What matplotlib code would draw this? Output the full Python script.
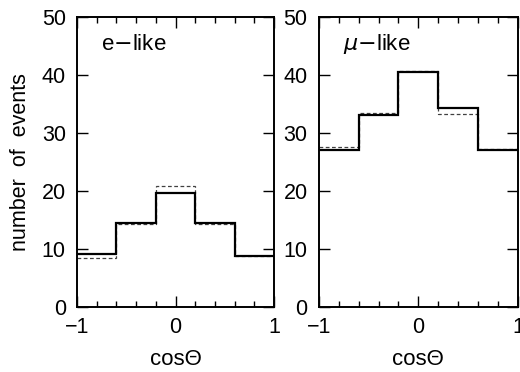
import numpy as np
import matplotlib
matplotlib.use('Agg')
from matplotlib import pyplot as plt
from matplotlib.ticker import MultipleLocator

plt.rcParams['font.family'] = ['Liberation Sans', 'DejaVu Sans']

edges = [-1.0, -0.6, -0.2, 0.2, 0.6, 1.0]

# e-like: data (solid) and expectation (dashed)
e_data = [9.2, 14.4, 19.6, 14.5, 8.7]
e_mc = [8.5, 14.2, 20.8, 14.2, 8.7]

# mu-like
mu_data = [27.0, 33.0, 40.5, 34.3, 27.1]
mu_mc = [27.5, 33.4, 40.6, 33.3, 27.2]

panels = [('e$-$like', e_data, e_mc), ('$\\mu$$-$like', mu_data, mu_mc)]

fig = plt.figure(figsize=(5.2, 3.72), dpi=100)
boxes = [[0.148, 0.175, 0.379, 0.780], [0.613, 0.175, 0.383, 0.780]]

for i, (label, data, mc) in enumerate(panels):
    ax = fig.add_axes(boxes[i])
    ax.stairs(mc, edges, baseline=None, color='0.25', lw=0.9, ls=(0, (3, 2)))
    ax.stairs(data, edges, baseline=None, color='black', lw=1.6)
    ax.set_xlim(-1, 1)
    ax.set_ylim(0, 50)
    ax.xaxis.set_major_locator(MultipleLocator(1))
    ax.xaxis.set_minor_locator(MultipleLocator(0.2))
    ax.yaxis.set_major_locator(MultipleLocator(10))
    ax.tick_params(which='both', direction='in', top=True, right=True,
                   labelsize=15.5, width=1)
    ax.tick_params(which='major', length=8, pad=7)
    ax.tick_params(which='minor', length=4)
    ax.tick_params(axis='y', pad=8)
    ax.set_xticklabels(['', '\u22121', '0', '1'])
    for s in ax.spines.values():
        s.set_linewidth(1.4)
    ax.set_xlabel('cos\u0398', fontsize=16, labelpad=8)
    ax.text(-0.76, 45.3, label, fontsize=16, va='center')
    if i == 0:
        ax.set_ylabel('number  of  events', fontsize=15.5, labelpad=8)

plt.savefig('out.png', dpi=100)
